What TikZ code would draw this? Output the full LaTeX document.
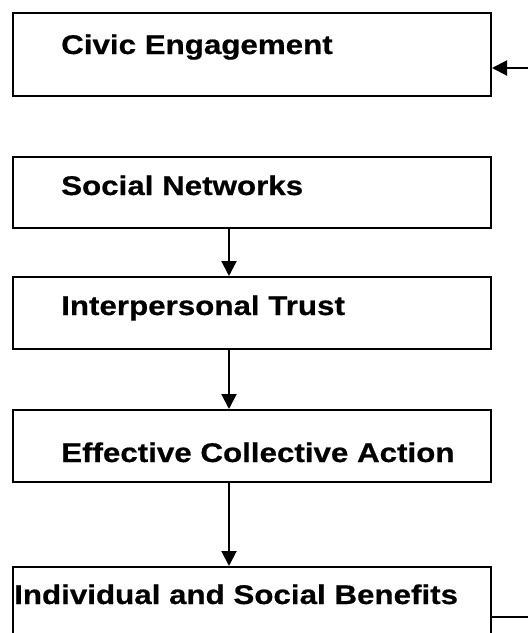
\documentclass[tikz,border=0pt]{standalone}
\usepackage{fontspec}
\newfontfamily\boxfont[FakeStretch=1.16,FakeBold=0.6]{Liberation Sans Bold}
\usetikzlibrary{arrows.meta}

\begin{document}
\begin{tikzpicture}[x=1pt,y=-1pt,
box/.style={draw, line width=2pt, minimum width=478pt, inner sep=0pt},
lbl/.style={anchor=base west, inner sep=0pt, font=\boxfont\fontsize{27}{30}\selectfont},
arr/.style={line width=2pt, -{Triangle[length=15pt,width=15pt]}}]
\useasboundingbox (0,0) rectangle (528,633);
\clip (0,0) rectangle (528,633);
% boxes
\node[box, minimum height=83pt] (civic) at (252,54.5) {};
\node[box, minimum height=71pt] (social) at (252,192.5) {};
\node[box, minimum height=72pt] (trust) at (252,313) {};
\node[box, minimum height=72pt] (action) at (252,446) {};
\node[box, minimum height=94pt] (benefit) at (252,614) {};
% texts
\node[lbl] (civictext) at (61,54) {Civic Engagement};
\node[lbl] (socialtext) at (61,195) {Social Networks};
\node[lbl] (trusttext) at (61,315) {Interpersonal Trust};
\node[lbl] (actiontext) at (61,462) {Effective Collective Action};
\node[lbl] (benefittext) at (14,604) {Individual and Social Benefits};
% arrows
\draw[arr] ([xshift=-23pt]social.south) -- ([xshift=-23pt]trust.north);
\draw[arr] ([xshift=-23pt]trust.south) -- ([xshift=-23pt]action.north);
\draw[arr] ([xshift=-23pt]action.south) -- ([xshift=-23pt]benefit.north);
% feedback ends
\coordinate (backin) at (528,68);
\coordinate (backout) at (528,617);
\draw[arr] (backin) -- (backin -| civic.east);
\draw[line width=2pt] (backout -| benefit.east) -- (backout);
\end{tikzpicture}
\end{document}
